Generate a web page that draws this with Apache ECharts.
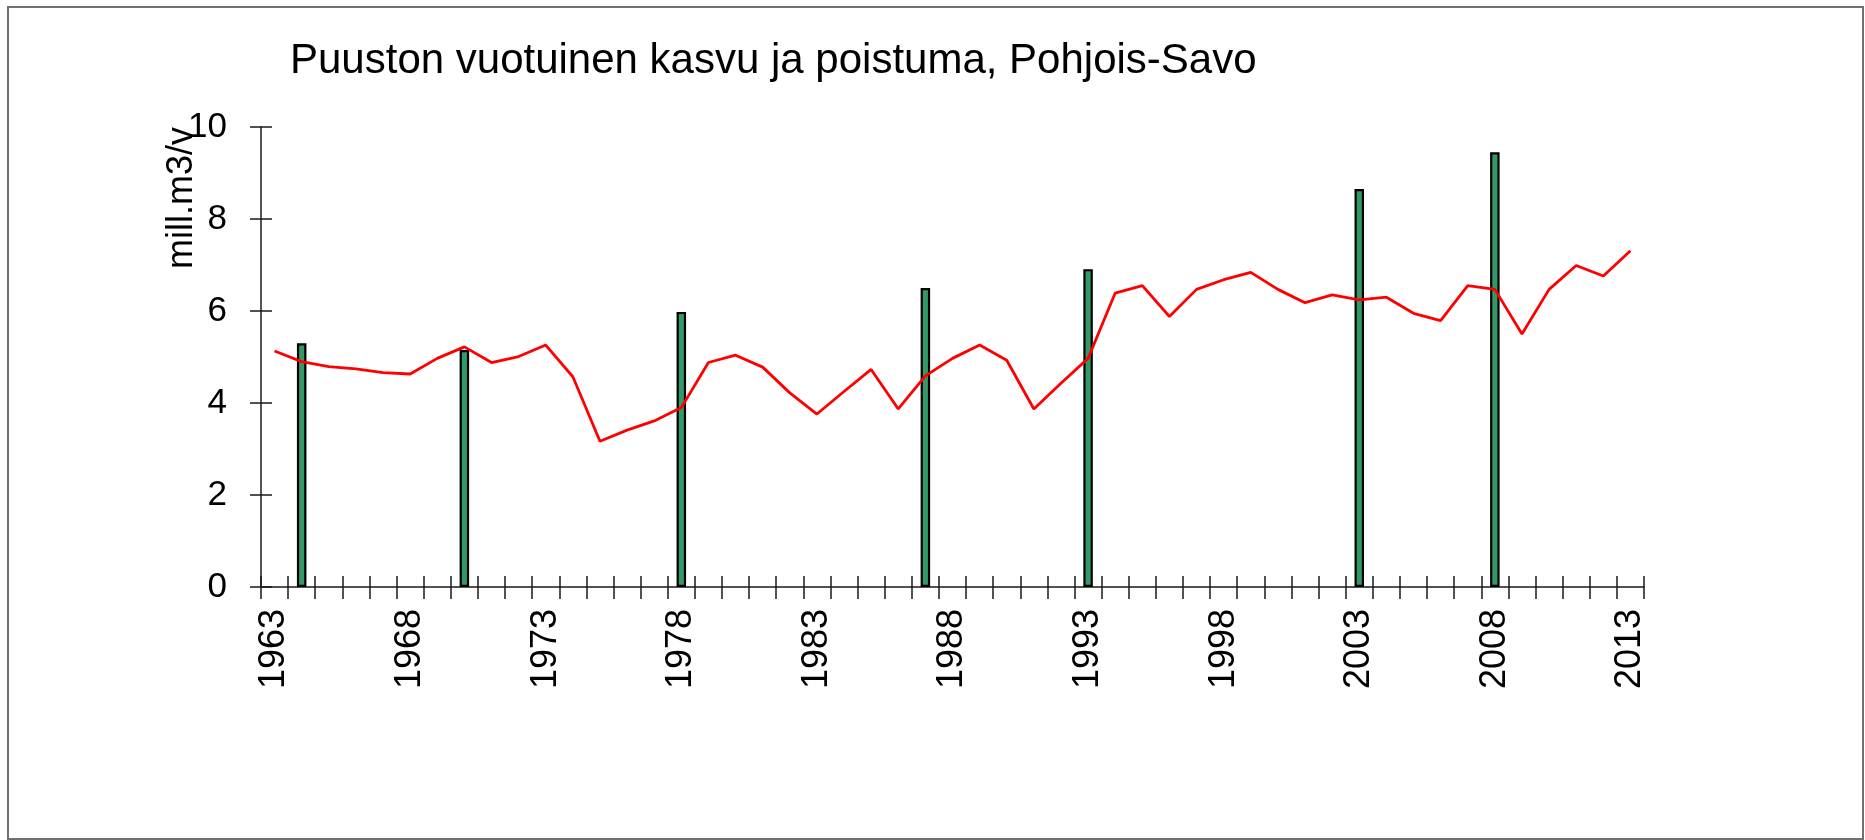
<!DOCTYPE html>
<html>
<head>
<meta charset="utf-8">
<script src="https://cdn.jsdelivr.net/npm/echarts@6/dist/echarts.min.js"></script>
<style>
html,body{margin:0;padding:0;background:#fff;}
#chart{width:1865px;height:840px;}
</style>
</head>
<body>
<div id="chart"></div>
<script>
const titleText = 'Puuston vuotuinen kasvu ja poistuma, Pohjois-Savo';
const yAxisName = 'mill.m3/v';
const years = ['1963','1964','1965','1966','1967','1968','1969','1970','1971','1972',
  '1973','1974','1975','1976','1977','1978','1979','1980','1981','1982',
  '1983','1984','1985','1986','1987','1988','1989','1990','1991','1992',
  '1993','1994','1995','1996','1997','1998','1999','2000','2001','2002',
  '2003','2004','2005','2006','2007','2008','2009','2010','2011','2012','2013'];
// red line (poistuma), one value per year
const lineValues = [5.13,4.90,4.79,4.74,4.66,4.63,4.97,5.22,4.88,5.01,
  5.26,4.57,3.17,3.41,3.61,3.90,4.88,5.04,4.78,4.22,
  3.76,4.25,4.73,3.87,4.59,4.97,5.26,4.93,3.87,4.43,
  4.97,6.39,6.55,5.88,6.47,6.68,6.84,6.47,6.18,6.35,
  6.24,6.30,5.95,5.79,6.55,6.47,5.50,6.47,6.99,6.76,7.31];
// green bars (kasvu), only for inventory years
const barYears = ['1964','1970','1978','1987','1993','2003','2008'];
const barValues = [5.30,5.15,5.98,6.50,6.91,8.65,9.45];
const yTicks = {min:0, max:10, interval:2};

const barData = years.map(y => {
  const i = barYears.indexOf(y);
  return i >= 0 ? barValues[i] : null;
});

const FONT = "'Liberation Sans', Arial, sans-serif";
const chart = echarts.init(document.getElementById('chart'), null, {renderer:'canvas'});

const xBase = {
  type:'category', data:years, gridIndex:0, position:'bottom',
  boundaryGap:true,
  axisLine:{show:true, lineStyle:{color:'#1a1a1a', width:1.5}},
  splitLine:{show:false}
};
const yBase = {
  type:'value', min:yTicks.min, max:yTicks.max, interval:yTicks.interval, position:'left',
  axisLine:{show:true, lineStyle:{color:'#1a1a1a', width:1.5}},
  splitLine:{show:false}
};

chart.setOption({
  animation:false,
  backgroundColor:'#ffffff',
  title:{
    text:titleText, left:285, top:35,
    textStyle:{fontFamily:FONT, fontSize:42, fontWeight:'normal', color:'#000'}
  },
  grid:{left:261, right:221, top:127, bottom:253, containLabel:false},
  xAxis:[
    Object.assign({}, xBase, {
      axisTick:{show:true, interval:0, alignWithLabel:false, inside:false, length:12, lineStyle:{color:'#1a1a1a', width:1.5}},
      axisLabel:{show:true, interval:4, rotate:90, margin:22, fontFamily:FONT, fontSize:36, color:'#000'}
    }),
    Object.assign({}, xBase, {
      axisLine:{show:false},
      axisTick:{show:true, interval:0, alignWithLabel:false, inside:true, length:11, lineStyle:{color:'#1a1a1a', width:1.5}},
      axisLabel:{show:false}
    })
  ],
  yAxis:[
    Object.assign({}, yBase, {
      axisTick:{show:true, inside:false, length:11, lineStyle:{color:'#1a1a1a', width:1.5}},
      axisLabel:{show:true, margin:34, fontFamily:FONT, fontSize:35, color:'#000'}
    }),
    Object.assign({}, yBase, {
      axisLine:{show:false},
      axisTick:{show:true, inside:true, length:11, lineStyle:{color:'#1a1a1a', width:1.5}},
      axisLabel:{show:false}
    })
  ],
  series:[
    {
      type:'bar', name:'kasvu', xAxisIndex:0, yAxisIndex:0,
      data:barData, barWidth:9.5,
      itemStyle:{color:'#339966', borderColor:'#000', borderWidth:2.2}
    },
    {
      type:'line', name:'poistuma', xAxisIndex:0, yAxisIndex:0,
      data:lineValues, symbol:'none', smooth:false,
      lineStyle:{color:'#ff0000', width:2.8}
    }
  ],
  graphic:[
    {
      type:'rect', silent:true,
      shape:{x:8, y:7, width:1855, height:832},
      style:{fill:'none', stroke:'#707070', lineWidth:2}
    },
    {
      type:'text', silent:true, x:182, y:198, rotation:Math.PI/2,
      style:{text:yAxisName, font:"36px 'Liberation Sans', Arial, sans-serif", fill:'#000', align:'center', verticalAlign:'middle'}
    }
  ]
});
</script>
</body>
</html>
